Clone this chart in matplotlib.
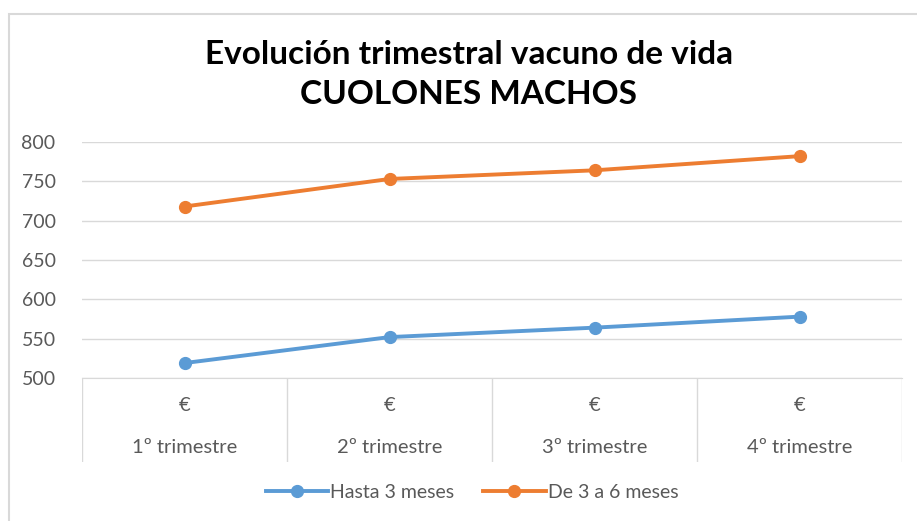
import matplotlib
matplotlib.use("Agg")
import matplotlib.pyplot as plt
from matplotlib.patches import Rectangle

plt.rcParams['font.family'] = ['Lato', 'DejaVu Sans']

quarters = ["1º trimestre", "2º trimestre", "3º trimestre", "4º trimestre"]
unit_row = ["€", "€", "€", "€"]
hasta_3 = [519, 552, 564, 578]
de_3_a_6 = [718, 753, 764, 782]

BLUE = "#5B9BD5"
ORANGE = "#ED7D31"
GRID = "#D9D9D9"
TXT = "#595959"

fig = plt.figure(figsize=(9.17, 5.21), dpi=100)

# light chart border (cropped on right/bottom)
fig.add_artist(Rectangle((8.5 / 917, -0.1), 1.2, 1 - 14 / 521 + 0.1,
                         transform=fig.transFigure, fill=False,
                         edgecolor=GRID, linewidth=1.5))

left, right = 82, 902
ax = fig.add_axes([left / 917, 1 - 378 / 521, (right - left) / 917, (378 - 142) / 521])
x = range(len(quarters))
ax.plot(x, hasta_3, color=BLUE, lw=2.8, marker="o", ms=8.5, label="Hasta 3 meses")
ax.plot(x, de_3_a_6, color=ORANGE, lw=2.8, marker="o", ms=8.5, label="De 3 a 6 meses")
ax.set_xlim(-0.5, len(quarters) - 0.5)
ax.set_ylim(500, 800)
ax.set_yticks(range(500, 801, 50))
ax.set_xticks([])
ax.yaxis.grid(True, color=GRID, lw=1)
ax.set_axisbelow(True)
for s in ["top", "right", "left"]:
    ax.spines[s].set_visible(False)
ax.spines["bottom"].set_color(GRID)
ax.tick_params(axis="y", length=0, labelsize=14, colors=TXT, pad=19)

# category table below the plot
cax = fig.add_axes([left / 917, 1 - 462 / 521, (right - left) / 917, (462 - 378) / 521])
cax.set_xlim(-0.5, len(quarters) - 0.5)
cax.set_ylim(0, 1)
cax.axis("off")
for b in range(len(quarters) + 1):
    cax.axvline(b - 0.5, color=GRID, lw=1)
for i, (u, q) in enumerate(zip(unit_row, quarters)):
    cax.text(i, 0.67, u, ha="center", va="center", fontsize=14.5, color=TXT)
    cax.text(i, 0.17, q, ha="center", va="center", fontsize=14.5, color=TXT)

fig.legend(loc="center", bbox_to_anchor=(472 / 917, 1 - 492 / 521), ncol=2,
           frameon=False, fontsize=14, labelcolor=TXT, handlelength=3.2,
           handletextpad=0.1, columnspacing=1.5)

fig.text(469 / 917, 1 - 55 / 521, "Evolución trimestral vacuno de vida",
         ha="center", va="center", fontsize=24, fontweight="bold", color="black")
fig.text(469 / 917, 1 - 95 / 521, "CUOLONES MACHOS",
         ha="center", va="center", fontsize=24, fontweight="bold", color="black")

fig.savefig("out.png", dpi=100)
